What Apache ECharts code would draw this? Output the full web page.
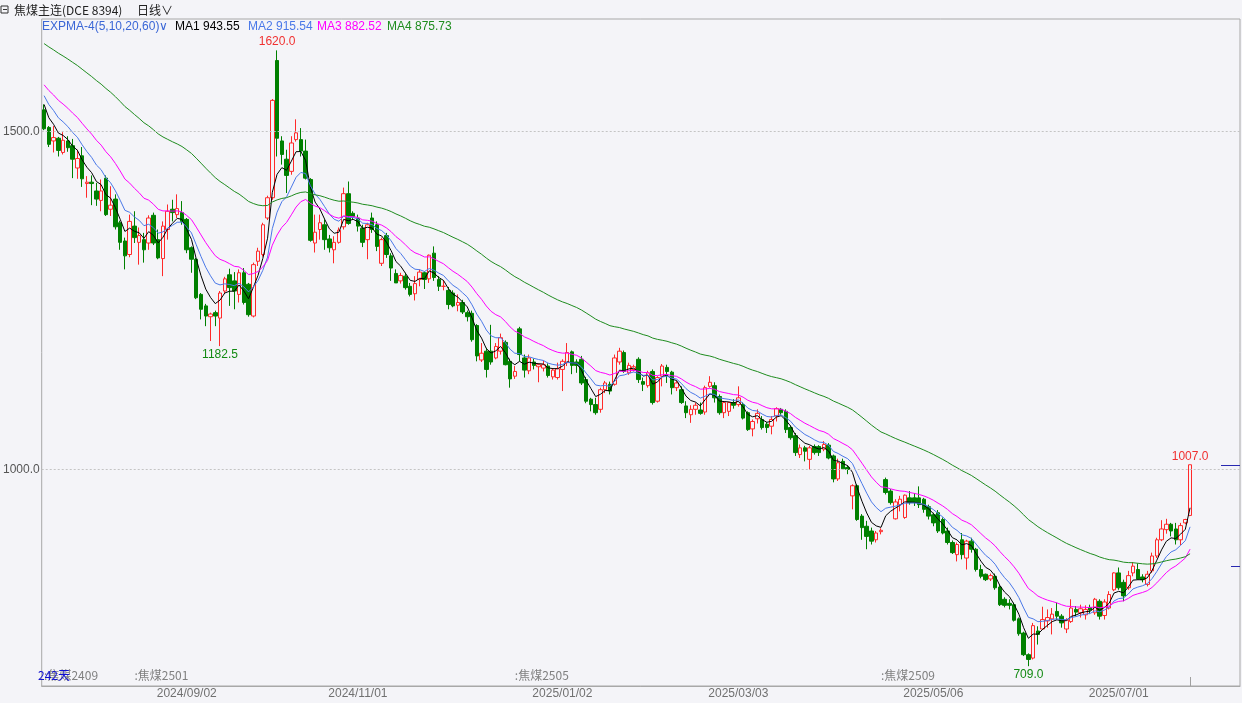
<!DOCTYPE html>
<html><head><meta charset="utf-8">
<script src="https://cdn.jsdelivr.net/npm/echarts@6/dist/echarts.min.js"></script>
<style>html,body{margin:0;padding:0;background:#f4f4f8;}#c{width:1242px;height:703px;}</style>
</head><body><div id="c"></div>
<script>
// ---- data ----
const opens = [1532,1506,1486,1490,1469,1486,1479,1446,1464,1423,
1425,1412,1398,1431,1385,1400,1365,1338,1318,1360,
1336,1340,1335,1376,1340,1312,1355,1385,1377,1380,
1370,1328,1311,1259,1242,1226,1232,1224,1264,1288,
1279,1259,1291,1274,1227,1308,1318,1372,1402,1605,
1486,1459,1441,1488,1488,1471,1429,1335,1355,1362,
1341,1325,1336,1359,1408,1379,1372,1357,1340,1372,
1362,1305,1346,1316,1290,1279,1286,1271,1260,1281,
1291,1282,1320,1281,1271,1265,1261,1243,1247,1232,
1231,1213,1162,1175,1175,1165,1175,1188,1160,1138,
1208,1165,1146,1159,1152,1150,1153,1137,1136,1148,
1158,1174,1159,1163,1133,1104,1096,1089,1118,1126,
1126,1159,1173,1143,1148,1163,1130,1124,1145,1101,
1138,1151,1144,1121,1118,1094,1081,1089,1088,1085,
1123,1124,1108,1084,1086,1099,1096,1096,1084,1060,
1075,1074,1067,1064,1079,1089,1086,1062,1050,1022,
1032,1015,1034,1034,1030,1036,1020,986,1012,1003,
961,976,931,916,909,896,908,985,968,927,
948,929,958,958,958,956,945,933,936,926,
909,892,874,896,869,894,882,852,845,838,
842,826,808,802,800,779,758,726,721,761,
764,776,779,790,783,764,775,793,788,785,
796,788,805,784,795,822,847,833,825,847,
852,841,830,850,872,896,911,919,912,896,
921,932];
const closes = [1504,1481,1491,1472,1487,1476,1459,1460,1430,1425,
1423,1400,1412,1377,1391,1359,1336,1316,1367,1343,
1346,1325,1372,1335,1313,1360,1382,1380,1386,1367,
1325,1311,1254,1237,1227,1230,1227,1261,1282,1269,
1264,1291,1247,1229,1303,1323,1362,1402,1546,1490,
1466,1435,1483,1498,1471,1431,1339,1351,1365,1340,
1328,1336,1354,1408,1364,1374,1360,1336,1362,1355,
1330,1340,1318,1298,1276,1287,1269,1259,1275,1292,
1281,1317,1284,1271,1271,1244,1242,1247,1233,1226,
1192,1168,1172,1148,1159,1182,1195,1155,1134,1145,
1170,1147,1165,1154,1155,1155,1139,1147,1149,1160,
1173,1154,1154,1128,1101,1096,1084,1118,1128,1116,
1165,1175,1145,1154,1152,1133,1126,1143,1099,1136,
1153,1145,1121,1128,1099,1084,1089,1095,1083,1121,
1129,1106,1084,1099,1099,1095,1106,1076,1059,1071,
1083,1062,1062,1074,1090,1084,1059,1047,1025,1032,
1027,1032,1025,1025,1037,1017,986,1010,1001,1000,
976,926,914,901,894,906,910,966,951,952,
956,962,951,951,948,941,931,921,909,906,
892,877,889,874,894,882,852,842,837,843,
825,800,799,799,777,757,726,719,769,756,
778,781,786,783,773,777,795,789,794,793,
792,808,783,804,815,847,825,813,843,857,
838,837,845,872,896,912,919,909,896,917,
926,1007];
const lows = [1502,1477,1469,1463,1466,1470,1431,1430,1418,1402,
1391,1390,1382,1375,1375,1355,1325,1296,1314,1335,
1303,1306,1325,1332,1311,1286,1340,1367,1372,1362,
1320,1291,1252,1222,1212,1190,1212,1182.5,1260,1242,
1237,1247,1244,1226,1225,1301,1315,1369,1399,1463,
1451,1409,1436,1485,1463,1429,1337,1321,1340,1325,
1321,1305,1334,1355,1362,1370,1352,1329,1311,1350,
1323,1301,1313,1279,1276,1275,1266,1256,1250,1271,
1267,1276,1279,1264,1265,1237,1240,1234,1230,1219,
1189,1160,1159,1136,1155,1163,1170,1154,1121,1134,
1160,1136,1141,1148,1129,1145,1136,1133,1133,1116,
1153,1141,1143,1125,1098,1086,1081,1084,1113,1111,
1124,1155,1143,1140,1145,1128,1116,1121,1096,1099,
1123,1128,1111,1116,1097,1076,1069,1081,1081,1081,
1121,1099,1081,1076,1079,1090,1093,1074,1057,1049,
1068,1059,1054,1052,1071,1081,1054,1044,1020,1017,
1012,1000,1022,1020,1027,1015,981,983,1000,993,
941,924,896,882,889,892,904,963,948,926,
938,927,948,946,943,936,926,916,906,904,
889,875,864,867,852,877,849,839,835,835,
822,798,796,793,775,754,724,709,719,741,
763,766,756,778,766,758,773,783,781,778,
786,785,778,778,793,820,822,805,822,842,
837,833,827,847,869,894,905,901,889,888,
919,931];
const highs = [1540,1508,1508,1492,1499,1493,1489,1473,1477,1434,
1435,1424,1429,1435,1419,1407,1368,1343,1377,1382,
1358,1350,1376,1380,1355,1367,1392,1399,1407,1397,
1372,1330,1313,1261,1245,1232,1235,1264,1285,1297,
1292,1296,1298,1276,1306,1328,1365,1405,1548,1620,
1493,1473,1493,1518,1505,1488,1431,1377,1377,1370,
1347,1345,1358,1417,1426,1382,1377,1362,1365,1380,
1367,1343,1350,1320,1296,1291,1291,1276,1286,1296,
1293,1318,1330,1286,1280,1270,1265,1259,1251,1235,
1235,1215,1187,1180,1214,1187,1201,1191,1164,1153,
1211,1170,1170,1164,1157,1161,1157,1150,1158,1163,
1187,1176,1163,1168,1137,1106,1106,1121,1131,1130,
1170,1180,1176,1158,1155,1166,1136,1146,1148,1138,
1156,1155,1146,1131,1123,1101,1095,1099,1099,1124,
1138,1129,1111,1101,1100,1104,1123,1099,1086,1074,
1089,1079,1070,1079,1092,1091,1089,1065,1054,1037,
1035,1035,1037,1036,1042,1039,1022,1016,1016,1006,
978,978,934,924,914,909,913,988,971,956,
961,963,968,965,975,958,948,936,940,929,
914,895,892,906,896,899,884,859,846,846,
846,829,811,808,803,781,760,728,773,768,
797,793,795,803,786,780,808,798,800,799,
800,810,808,808,820,848,855,837,850,863,
861,845,850,877,899,925,927,921,921,921,
927,1007];

// EXPMA indicator: periods and the starting values read at the first bar
const emaPeriods = [5, 10, 20, 60];
const emaSeeds = [1540, 1553, 1569, 1630];
const emaNames = ['MA1', 'MA2', 'MA3', 'MA4'];
const emaLast = ['943.55', '915.54', '882.52', '875.73'];

// bottom date ticks (bar index -> label)
const tickIndex = [30, 66, 109, 146, 187, 226];
const tickLabels = ['2024/09/02', '2024/11/01', '2025/01/02', '2025/03/03', '2025/05/06', '2025/07/01'];
// contract switch labels
const contractIndex = [0, 19, 99, 176];
const contractLabels = ['焦煤2409', '焦煤2501', '焦煤2505', '焦煤2509'];
// annotated extremes
const extremeIndex = [49, 37, 207, 241];
const extremeKind = ['high', 'low', 'low', 'high'];
// y gridlines/labels
const yGridValues = [1000, 1500];
// right-edge price marks
const rightMarks = [1007, 857];

const padBars = 10;
const N = closes.length;
const cats = [];
for (let i = 0; i < N + padBars; i++) cats.push(String(i));
const tickMap = {}; tickIndex.forEach((ix, k) => tickMap[ix] = tickLabels[k]);
const contractMap = {}; contractIndex.forEach((ix, k) => contractMap[ix] = ':' + contractLabels[k]);

function expma(period, seed) {
  const a = 2 / (period + 1);
  const out = [];
  let v = seed;
  for (let i = 0; i < N; i++) {
    if (i > 0) v = v + a * (closes[i] - v);
    out.push(+v.toFixed(2));
  }
  return out;
}

const BG = '#f4f4f8';
const UP = '#ff2a2a';
const DOWN = '#008000';
const lineColors = ['#000000', '#4a78e8', '#ff00ff', '#1e8c1e'];

const candleData = opens.map((o, i) => [o, closes[i], lows[i], highs[i]]);

const chart = echarts.init(document.getElementById('c'), null, {renderer: 'canvas'});

const series = [{
  type: 'candlestick',
  data: candleData,
  barWidth: 4,
  itemStyle: {color: BG, color0: DOWN, borderColor: UP, borderColor0: DOWN, borderWidth: 1},
  markLine: {
    silent: true, symbol: ['none', 'none'], label: {show: false},
    lineStyle: {color: '#c4c4c4', type: [2, 2], width: 1},
    data: yGridValues.map(v => ({yAxis: v}))
  },
  markPoint: {
    symbol: 'rect', symbolSize: 1, silent: true,
    itemStyle: {color: 'rgba(0,0,0,0)'},
    data: extremeIndex.map((ix, k) => {
      const isHigh = extremeKind[k] === 'high';
      const v = isHigh ? highs[ix] : lows[ix];
      return {
        coord: [ix, v], value: v,
        label: {show: true, position: isHigh ? 'top' : 'bottom', distance: 2,
          formatter: v.toFixed(1), color: isHigh ? '#f03030' : '#128a12',
          fontSize: 12, fontFamily: 'Liberation Sans'}
      };
    })
  }
}];
emaPeriods.forEach((p, k) => {
  series.push({
    type: 'line', data: expma(p, emaSeeds[k]), showSymbol: false, symbol: 'none',
    lineStyle: {width: 1, color: lineColors[k]}, z: 3, silent: true
  });
});

chart.setOption({
  animation: false,
  backgroundColor: BG,
  grid: {left: 38, right: 2, top: 19, bottom: 17, show: true, borderColor: '#a8a8a8', borderWidth: 1, backgroundColor: 'transparent'},
  xAxis: [{
    type: 'category', data: cats, boundaryGap: true,
    axisLine: {show: true, lineStyle: {color: '#a8a8a8'}}, axisTick: {show: false},
    splitLine: {show: false},
    axisLabel: {interval: 0, margin: 2, color: '#707070', fontSize: 12, fontFamily: 'Liberation Sans',
      formatter: (v, i) => tickMap[i] || ''}
  }, {
    type: 'category', data: cats, boundaryGap: true, position: 'bottom',
    axisLine: {show: false},
    axisTick: {show: true, inside: true, length: 9, alignWithLabel: true,
      interval: (i) => i === N - 1, lineStyle: {color: '#a0a0a0'}},
    splitLine: {show: false},
    axisLabel: {inside: true, interval: 0, margin: 5, align: 'left', color: '#808080', fontSize: 12,
      fontFamily: 'Noto Sans CJK SC', formatter: (v, i) => contractMap[i] || ''}
  }],
  yAxis: {
    type: 'value', min: 679.7, max: 1666.4, scale: true,
    axisLine: {show: false}, axisTick: {show: false}, splitLine: {show: false},
    axisLabel: {customValues: yGridValues, formatter: v => v.toFixed(1), margin: 2,
      color: '#555', fontSize: 12, fontFamily: 'Liberation Sans'}
  },
  series: series
});

const yPx = v => chart.convertToPixel({yAxisIndex: 0}, v);
const legendItems = [
  {t: 'EXPMA-4(5,10,20,60)\u2228', x: 42, c: '#3a66d6'},
  {t: emaNames[0] + ' ' + emaLast[0], x: 175, c: lineColors[0]},
  {t: emaNames[1] + ' ' + emaLast[1], x: 248, c: lineColors[1]},
  {t: emaNames[2] + ' ' + emaLast[2], x: 317, c: lineColors[2]},
  {t: emaNames[3] + ' ' + emaLast[3], x: 387, c: lineColors[3]}
];
const graphics = [
  {type: 'rect', shape: {x: 1, y: 6, width: 7, height: 7}, style: {fill: 'none', stroke: '#333', lineWidth: 1}},
  {type: 'line', shape: {x1: 3, y1: 9.5, x2: 7, y2: 9.5}, style: {stroke: '#333', lineWidth: 1}},
  {type: 'text', x: 14, y: 10, style: {text: '焦煤主连(DCE 8394)', fill: '#222', font: '12px "Noto Sans CJK SC"', verticalAlign: 'middle'}},
  {type: 'text', x: 137, y: 10, style: {text: '日线\u2228', fill: '#222', font: '12px "Noto Sans CJK SC"', verticalAlign: 'middle'}},
  {type: 'text', x: 38, y: 675, style: {text: '242天', fill: '#1010d0', font: '12px "Noto Sans CJK SC"', verticalAlign: 'middle'}, z: 10}
];
legendItems.forEach(it => graphics.push({type: 'text', x: it.x, y: 27,
  style: {text: it.t, fill: it.c, font: '12px "Liberation Sans"', verticalAlign: 'middle'}}));
graphics.push({type: 'line', shape: {x1: 1221, y1: Math.round(yPx(rightMarks[0])) + 0.5, x2: 1240, y2: Math.round(yPx(rightMarks[0])) + 0.5}, style: {stroke: '#2828b0', lineWidth: 1}});
graphics.push({type: 'line', shape: {x1: 1231, y1: Math.round(yPx(rightMarks[1])) + 0.5, x2: 1240, y2: Math.round(yPx(rightMarks[1])) + 0.5}, style: {stroke: '#2828b0', lineWidth: 1}});
chart.setOption({graphic: graphics});
</script>
</body></html>
